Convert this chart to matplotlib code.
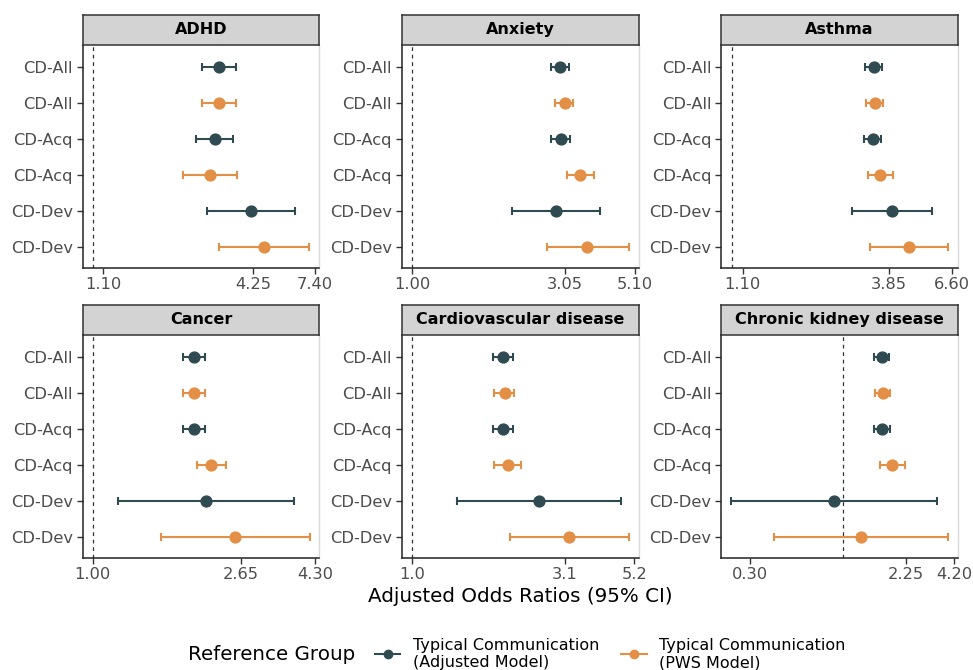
import numpy as np
import matplotlib
matplotlib.use("Agg")
import matplotlib.pyplot as plt
from matplotlib.lines import Line2D
from matplotlib.offsetbox import HPacker

# ---------------- data ----------------
conditions = ["ADHD", "Anxiety", "Asthma", "Cancer",
              "Cardiovascular disease", "Chronic kidney disease"]
row_labels = ["CD-All", "CD-All", "CD-Acq", "CD-Acq", "CD-Dev", "CD-Dev"]
row_model = ["adj", "pws", "adj", "pws", "adj", "pws"]

or_adhd = [3.12, 3.12, 3.01, 2.88, 4.15, 4.69]
lo_adhd = [2.68, 2.68, 2.54, 2.26, 2.79, 3.13]
hi_adhd = [3.64, 3.64, 3.54, 3.68, 6.17, 7.04]

or_anx = [2.95, 3.05, 2.96, 3.42, 2.86, 3.60]
lo_anx = [2.76, 2.84, 2.76, 3.10, 2.08, 2.68]
hi_anx = [3.16, 3.25, 3.17, 3.77, 3.95, 4.89]

or_ast = [3.38, 3.41, 3.35, 3.57, 3.96, 4.58]
lo_ast = [3.14, 3.17, 3.11, 3.21, 2.81, 3.27]
hi_ast = [3.63, 3.67, 3.60, 4.00, 5.55, 6.41]

or_can = [1.95, 1.95, 1.94, 2.18, 2.11, 2.55]
lo_can = [1.81, 1.81, 1.81, 1.98, 1.18, 1.57]
hi_can = [2.09, 2.09, 2.09, 2.40, 3.74, 4.17]

or_cvd = [1.96, 1.99, 1.96, 2.04, 2.56, 3.20]
lo_cvd = [1.82, 1.84, 1.82, 1.84, 1.39, 2.06]
hi_cvd = [2.11, 2.13, 2.11, 2.25, 4.72, 5.01]

or_ckd = [1.66, 1.67, 1.66, 1.89, 0.89, 1.26]
lo_ckd = [1.49, 1.51, 1.49, 1.61, 0.234, 0.41]
hi_ckd = [1.81, 1.83, 1.82, 2.23, 3.37, 3.87]

x_ticks = [[1.10, 4.25, 7.40], [1.00, 3.05, 5.10], [1.10, 3.85, 6.60],
           [1.00, 2.65, 4.30], [1.0, 3.1, 5.2], [0.30, 2.25, 4.20]]
x_tick_labels = [["1.10", "4.25", "7.40"], ["1.00", "3.05", "5.10"],
                 ["1.10", "3.85", "6.60"], ["1.00", "2.65", "4.30"],
                 ["1.0", "3.1", "5.2"], ["0.30", "2.25", "4.20"]]
x_limits = [(0.914, 7.7), (0.925, 5.26), (0.913, 6.94),
            (0.936, 4.43), (0.924, 5.39), (0.206, 4.39)]

legend_labels = ["Typical Communication\n(Adjusted Model)",
                 "Typical Communication\n(PWS Model)"]

est = [or_adhd, or_anx, or_ast, or_can, or_cvd, or_ckd]
los = [lo_adhd, lo_anx, lo_ast, lo_can, lo_cvd, lo_ckd]
his = [hi_adhd, hi_anx, hi_ast, hi_can, hi_cvd, hi_ckd]

col = {"adj": "#2F4A51", "pws": "#E38F45"}

# ---------------- layout ----------------
W, H = 973, 670
fig = plt.figure(figsize=(W / 100, H / 100), dpi=100)

cols_px = [(82.7, 319.3), (401.7, 639.0), (721.0, 957.7)]
rows_px = [(45.0, 268.3), (335.0, 558.3)]
strip_h = 30.3

tick_color = "#4D4D4D"

for i, cond in enumerate(conditions):
    r, c = divmod(i, 3)
    x0, x1 = cols_px[c]
    yt, yb = rows_px[r]
    ax = fig.add_axes([x0 / W, 1 - yb / H, (x1 - x0) / W, (yb - yt) / H])
    ax.set_xscale("log")
    ax.set_xlim(*x_limits[i])
    n = len(row_labels)
    ypos = np.arange(n)[::-1] + 1  # top row = 6
    ax.set_ylim(0.4, n + 0.6)
    ax.axvline(1.0, color="#333333", lw=0.9, ls=(0, (3, 3)), zorder=1)
    for k in range(n):
        m = row_model[k]
        e = est[i][k]
        ax.errorbar([e], [ypos[k]],
                    xerr=[[e - los[i][k]], [his[i][k] - e]],
                    fmt="o", color=col[m], ms=7.8, elinewidth=1.5,
                    capsize=3.2, capthick=1.5, zorder=3)
    ax.set_yticks(ypos)
    ax.set_yticklabels(row_labels)
    ax.set_xticks(x_ticks[i])
    ax.set_xticklabels(x_tick_labels[i])
    ax.xaxis.set_minor_locator(matplotlib.ticker.NullLocator())
    ax.tick_params(axis="both", labelsize=11.7, labelcolor=tick_color,
                   color="#333333", length=4, width=1)
    ax.tick_params(axis="y", pad=3)
    ax.tick_params(axis="x", pad=2)
    for side in ["left", "bottom"]:
        ax.spines[side].set_color("#222222")
        ax.spines[side].set_linewidth(1.1)
    for side in ["right", "top"]:
        ax.spines[side].set_color("#D9D9D9")
        ax.spines[side].set_linewidth(1.0)
    ax.spines["top"].set_visible(False)
    # strip
    sax = fig.add_axes([x0 / W, 1 - yt / H, (x1 - x0) / W, strip_h / H])
    sax.set_facecolor("#D3D3D3")
    sax.set_xticks([])
    sax.set_yticks([])
    for s in sax.spines.values():
        s.set_color("#333333")
        s.set_linewidth(1.1)
    sax.text(0.5, 0.5, cond, ha="center", va="center", fontsize=11.5,
             fontweight="bold", color="black", transform=sax.transAxes)

fig.text(520 / W, 1 - 596 / H, "Adjusted Odds Ratios (95% CI)",
         ha="center", va="center", fontsize=14.3, color="black")

handles = [Line2D([0], [0], color=col["adj"], marker="o", ms=6, lw=1.5),
           Line2D([0], [0], color=col["pws"], marker="o", ms=6, lw=1.5)]
leg = fig.legend(handles, legend_labels, loc="center",
                 bbox_to_anchor=(517 / W, 1 - 654 / H), ncol=2,
                 frameon=False, fontsize=11.5, handlelength=1.6,
                 handletextpad=0.8, columnspacing=1.35,
                 title="Reference Group", title_fontsize=14.3)
title_box = leg._legend_title_box
entries = leg._legend_handle_box
leg._legend_box._children = [HPacker(pad=0, sep=14, align="center",
                                     children=[title_box, entries])]

fig.savefig("out.png", dpi=100, facecolor="white")
